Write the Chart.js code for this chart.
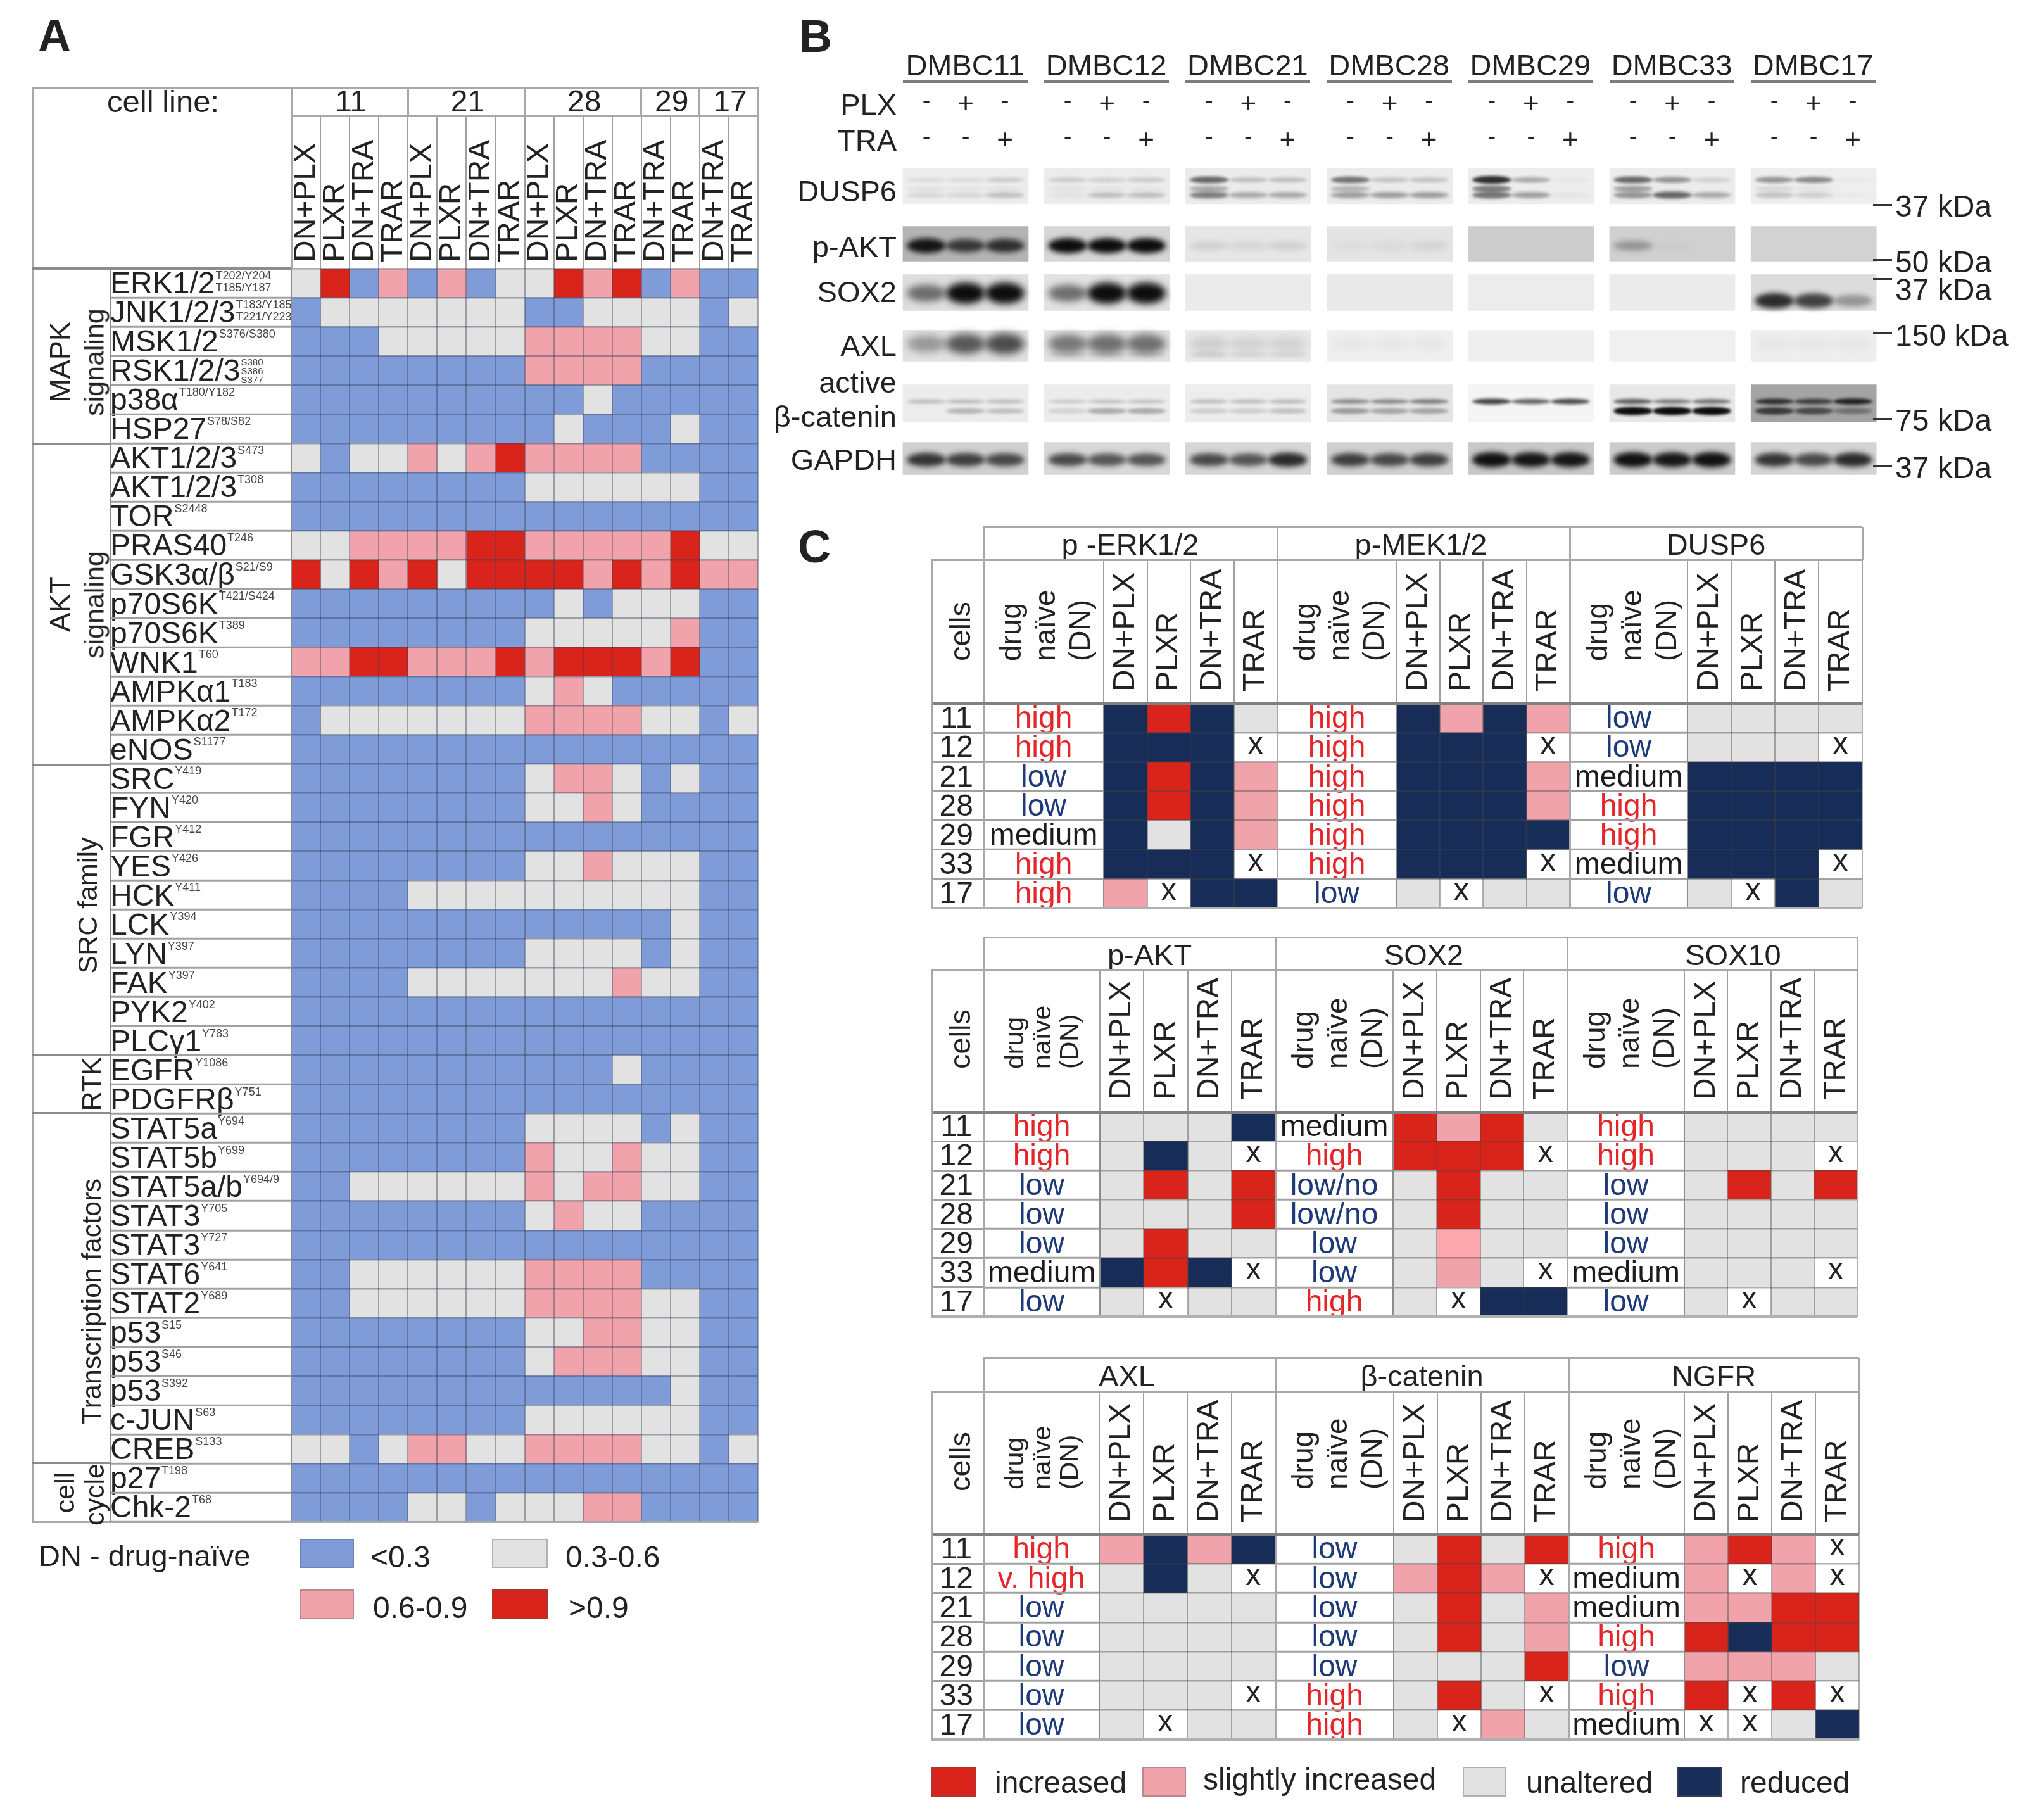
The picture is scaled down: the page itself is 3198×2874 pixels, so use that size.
<!DOCTYPE html>
<html>
<head>
<meta charset="utf-8">
<title>Signaling heatmaps</title>
<script src="https://cdn.jsdelivr.net/npm/chart.js@4"></script>
<style>
  html, body { margin: 0; background: #fff; }
  body { position: relative; width: 3198px; height: 2874px; overflow: hidden; font-family: "Liberation Sans", Arial, sans-serif; color: #222; }
  #page { position: absolute; left: 0; top: 0; width: 3198px; height: 2874px; filter: blur(0.7px); }
  canvas { position: absolute; }
  .txt { position: absolute; white-space: pre; line-height: 1; }
  .bar { position: absolute; }
</style>
</head>
<body>
<div id="page"></div>
<script>
// ---- panel A data ----
const treatments = ["DN+PLX", "PLXR", "DN+TRA", "TRAR"];
const cellGroups = ["11", "21", "28", "29", "17"];
const groupSpans = [4, 4, 4, 2, 2];
const panelAColumns = [...treatments, ...treatments, ...treatments, "DN+TRA", "TRAR", "DN+TRA", "TRAR"];
const proteins = ["ERK1/2", "JNK1/2/3", "MSK1/2", "RSK1/2/3", "p38α", "HSP27", "AKT1/2/3", "AKT1/2/3", "TOR", "PRAS40", "GSK3α/β",
  "p70S6K", "p70S6K", "WNK1", "AMPKα1", "AMPKα2", "eNOS", "SRC", "FYN", "FGR", "YES", "HCK", "LCK", "LYN", "FAK", "PYK2", "PLCγ1",
  "EGFR", "PDGFRβ", "STAT5a", "STAT5b", "STAT5a/b", "STAT3", "STAT3", "STAT6", "STAT2", "p53", "p53", "p53", "c-JUN", "CREB", "p27", "Chk-2"];
const phosphoSites = [["T202/Y204", "T185/Y187"], ["T183/Y185", "T221/Y223"], ["S376/S380"], ["S380", "S386", "S377"], ["T180/Y182"], ["S78/S82"],
  ["S473"], ["T308"], ["S2448"], ["T246"], ["S21/S9"], ["T421/S424"], ["T389"], ["T60"], ["T183"], ["T172"], ["S1177"],
  ["Y419"], ["Y420"], ["Y412"], ["Y426"], ["Y411"], ["Y394"], ["Y397"], ["Y397"], ["Y402"], ["Y783"], ["Y1086"], ["Y751"],
  ["Y694"], ["Y699"], ["Y694/9"], ["Y705"], ["Y727"], ["Y641"], ["Y689"], ["S15"], ["S46"], ["S392"], ["S63"], ["S133"], ["T198"], ["T68"]];
// one string per protein, 0: <0.3, 1: 0.3-0.6, 2: 0.6-0.9, 3: >0.9
const panelALevels = [
  "1302020113230200", "0111111100111101", "0001111122221100", "0000000022220000", "0000000000100000", "0000000001000100",
  "1011212322220000", "0000000011111100", "0000000000000000", "1122223322222311", "3132313333232322",
  "0000000001011100", "0000000011111200", "2233222323332300", "0000000012100000", "0111111122221101", "0000000000000000",
  "0000000012210100", "0000000011210000", "0000000000000000", "0000000011211100", "0000111111111100", "0000000000000100",
  "0000000011110100", "0000111111121100", "0000000000000000", "0000000000000000", "0000000000010000", "0000000000000000",
  "0000000011110100", "0000000021121100", "0011111121221100", "0000000012110000", "0000000000000000", "0011111122220000",
  "0011111122221100", "0000000011221100", "0000000012221100", "0000000000000100", "0000000011111100", "1101221122221101",
  "0000000000000000", "0000110111220000"];

// ---- panel B data: band darkness per lane, 7 cell lines x 3 lanes ----
const blotLines = ["DMBC11", "DMBC12", "DMBC21", "DMBC28", "DMBC29", "DMBC33", "DMBC17"];
const plxMarks = ["-", "+", "-"];
const traMarks = ["-", "-", "+"];
const dusp6Upper = [.08, .08, .15, .15, .13, .15, .6, .2, .2, .55, .18, .18, .85, .3, .03, .6, .4, .12, .4, .45, .03];
const dusp6Middle = [.05, .04, .05, .05, .03, .03, .3, 0, 0, .25, 0, 0, .5, 0, 0, .35, 0, 0, .1, .05, 0];
const dusp6Lower = [.1, .1, .2, .05, .2, .2, .5, .3, .3, .35, .35, .35, .55, .35, .04, .4, .6, .3, .2, .15, .02];
const pAktBand = [.95, .75, .8, 1, 1, 1, .1, .08, .1, .03, .05, .08, 0, 0, 0, .3, .02, 0, 0, 0, 0];
const sox2Band = [.55, 1, 1, .55, 1, 1, 0, 0, 0, 0, 0, 0, 0, 0, 0, 0, 0, 0, 0, 0, 0];
const sox2LowBand = [0, 0, 0, 0, 0, 0, 0, 0, 0, 0, 0, 0, 0, 0, 0, 0, 0, 0, .85, .75, .35];
const axlBand = [.35, .65, .7, .5, .55, .55, .12, .1, .1, .03, .03, .03, 0, 0, 0, 0, 0, 0, .03, .03, .03];
const axlLowBand = [0, 0, 0, .1, .1, .1, .1, .08, .08, 0, 0, 0, 0, 0, 0, 0, 0, 0, 0, 0, 0];
const cateninUpper = [.2, .2, .2, .15, .18, .18, .2, .2, .22, .4, .4, .45, .75, .6, .7, .6, .45, .5, .75, .65, .85];
const cateninLower = [0, .25, .2, .12, .3, .3, .15, .15, .2, .35, .3, .3, 0, 0, 0, 1, 1, 1, .7, .6, .35];
const gapdhBand = [.8, .75, .7, .7, .65, .65, .7, .65, .85, .75, .7, .75, .98, .95, .95, .98, .95, .98, .8, .7, .85];

// ---- panel C data ----
const cellLines = ["11", "12", "21", "28", "29", "33", "17"];
const pErkNaive = ["high", "high", "low", "low", "medium", "high", "high"];
const pErkCalls = ["riru", "rrrx", "rirs", "rirs", "rurs", "rrrx", "sxrr"];
const pMekNaive = ["high", "high", "high", "high", "high", "high", "low"];
const pMekCalls = ["rsrs", "rrrx", "rrrs", "rrrs", "rrrr", "rrrx", "uxuu"];
const dusp6Naive = ["low", "low", "medium", "high", "high", "medium", "low"];
const dusp6Calls = ["uuuu", "uuux", "rrrr", "rrrr", "rrrr", "rrrx", "uxru"];
const pAktNaive = ["high", "high", "low", "low", "low", "medium", "low"];
const pAktCalls = ["uuur", "urux", "uiui", "uuui", "uiuu", "rirx", "uxuu"];
const sox2Naive = ["medium", "high", "low/no", "low/no", "low", "low", "high"];
const sox2Calls = ["isiu", "iiix", "uiuu", "uiuu", "upuu", "usux", "uxrr"];
const sox10Naive = ["high", "high", "low", "low", "low", "medium", "low"];
const sox10Calls = ["uuuu", "uuux", "uiui", "uuuu", "uuuu", "uuux", "uxuu"];
const axlNaive = ["high", "v. high", "low", "low", "low", "low", "low"];
const axlCalls = ["srsr", "urux", "uuuu", "uuuu", "uuuu", "uuux", "uxuu"];
const cateninNaive = ["low", "low", "low", "low", "low", "high", "high"];
const cateninCalls = ["uiui", "sisx", "uius", "uius", "uuui", "uiux", "uxsu"];
const ngfrNaive = ["high", "medium", "medium", "high", "low", "high", "medium"];
const ngfrCalls = ["sisx", "sxsx", "ssii", "irii", "sssu", "ixix", "xxur"];

// ---- colours ----
const panelAPalette = ["#7f9cd8", "#e2e2e2", "#f0a3aa", "#d9241b"];
const panelCPalette = { r: "#182c58", i: "#d9241b", s: "#f0a3aa", p: "#fca6ae", u: "#e2e2e2", x: "#ffffff" };
const naiveColours = { "high": "#e2262a", "v. high": "#e2262a", "low": "#1e3a78", "low/no": "#1e3a78", "medium": "#1c1c1c" };
const FONT = '"Liberation Sans"';

Chart.defaults.font.family = FONT;
Chart.defaults.color = "#222";
Chart.defaults.animation = false;

const page = document.getElementById("page");

// ---- small page helpers ----
function addText(text, x, y, opts = {}) {
  const { size = 48, align = "left", rotate = 0, color = "#222", weight = "normal" } = opts;
  const el = document.createElement("div");
  el.className = "txt";
  el.textContent = text;
  const shift = align === "left" ? "0" : align === "right" ? "-100%" : "-50%";
  el.style.cssText = `left:${x}px;top:${y}px;font-size:${size}px;color:${color};font-weight:${weight};transform:translate(${shift},-50%) rotate(${rotate}deg);`;
  page.appendChild(el);
}
// rotated text that reads upward, anchored at its lower end
function addRotatedFromBottom(text, x, baseY, size) {
  const el = document.createElement("div");
  el.className = "txt";
  el.textContent = text;
  el.style.cssText = `left:${x}px;top:${baseY}px;font-size:${size}px;transform-origin:0 0;transform:rotate(-90deg) translate(0,-50%);`;
  page.appendChild(el);
}
function addBox(x, y, w, h, color) {
  const el = document.createElement("div");
  el.className = "bar";
  el.style.cssText = `left:${x}px;top:${y}px;width:${w}px;height:${h}px;background:${color};`;
  page.appendChild(el);
  return el;
}
function hLine(x1, x2, y, color = "#a8a8a8", t = 3) { addBox(x1, y - t / 2, x2 - x1, t, color); }
function vLine(x, y1, y2, color = "#a8a8a8", t = 3) { addBox(x - t / 2, y1, t, y2 - y1, color); }
function addSwatch(x, y, w, h, color) {
  const el = addBox(x, y, w, h, color);
  el.style.boxSizing = "border-box";
  el.style.border = "2px solid rgba(90,90,90,0.35)";
}
function addCanvas(x, y, w, h) {
  const c = document.createElement("canvas");
  c.width = w;
  c.height = h;
  c.style.left = x + "px";
  c.style.top = y + "px";
  c.style.width = w + "px";
  c.style.height = h + "px";
  page.appendChild(c);
  return c;
}

// stacked horizontal bars, one dataset per column, so each bar is one heatmap cell
function heatChart({ x, y, w, h, rows, cols, fills, yAxis, extraScales = {}, headerHeight, headerPad, gridColour, plugins = [] }) {
  const pad = 3;
  const canvas = addCanvas(x - pad, y - pad, w + pad * 2, h + pad * 2);
  return new Chart(canvas, {
    type: "bar",
    data: {
      labels: rows,
      datasets: cols.map((col, c) => ({
        label: col,
        data: rows.map(() => 1),
        backgroundColor: rows.map((_, r) => fills(r, c)),
        borderWidth: 0,
        barPercentage: 1,
        categoryPercentage: 1,
        xAxisID: "x",
        yAxisID: "y"
      }))
    },
    options: {
      indexAxis: "y",
      responsive: false,
      layout: { padding: pad, autoPadding: false },
      plugins: { legend: { display: false }, tooltip: { enabled: false }, title: { display: false } },
      scales: {
        x: { type: "linear", display: false, stacked: true, min: 0, max: cols.length },
        xCols: {
          type: "category",
          position: "top",
          labels: cols,
          offset: true,
          afterFit: s => { s.height = headerHeight; },
          grid: { offset: true, z: 1, color: gridColour, lineWidth: 2, tickLength: headerHeight, tickColor: "#a0a0a0", tickWidth: 2 },
          border: { display: false },
          ticks: { autoSkip: false, minRotation: 90, maxRotation: 90, padding: headerPad - headerHeight, labelOffset: 58, font: { size: 48 }, color: "#222" }
        },
        y: {
          type: "category",
          stacked: true,
          offset: true,
          afterFit: s => { s.width = yAxis.width; },
          grid: { offset: true, z: 1, color: gridColour, lineWidth: 2.5, tickLength: yAxis.width, tickColor: "#a0a0a0", tickWidth: 3 },
          border: { display: true, color: "#8c8c8c", width: 2, z: 1 },
          ticks: { autoSkip: false, crossAlign: yAxis.crossAlign, padding: yAxis.padding, labelOffset: yAxis.labelOffset, font: { size: 48 }, color: yAxis.color || "#222" }
        },
        ...extraScales
      }
    },
    plugins
  });
}

// ---- panel A ----
const A = { left: 51, labelX: 174, cellX: 460, right: 1197, top: 138, groupLine: 183, rowTop: 424, bottom: 2403 };
const siteLabels = {
  id: "siteLabels",
  afterDraw(chart) {
    const { ctx } = chart;
    const scale = chart.scales.y;
    ctx.save();
    ctx.fillStyle = "#444";
    ctx.textAlign = "left";
    ctx.textBaseline = "top";
    proteins.forEach((name, i) => {
      const sites = phosphoSites[i];
      ctx.font = `48px ${FONT}`;
      const sx = scale.left + ctx.measureText(name).width + 1;
      const rowY = scale.getPixelForTick(i) - 23;
      const size = sites.length > 2 ? 15 : 18;
      ctx.font = `${size}px ${FONT}`;
      sites.forEach((site, k) => ctx.fillText(site, sx, rowY + 3 + k * (sites.length > 2 ? 14 : 19)));
    });
    ctx.restore();
  }
};
heatChart({
  x: A.labelX, y: A.groupLine, w: A.right - A.labelX, h: A.bottom - A.groupLine,
  rows: proteins, cols: panelAColumns,
  fills: (r, c) => panelAPalette[Number(panelALevels[r][c])],
  yAxis: { width: A.cellX - A.labelX, crossAlign: "far", padding: -60, labelOffset: 3 },
  headerHeight: A.rowTop - A.groupLine, headerPad: 10,
  gridColour: "rgba(55,65,90,0.42)",
  plugins: [siteLabels]
});
hLine(A.left, A.right, A.top);
vLine(A.left, A.top, A.bottom);
vLine(A.right, A.top, A.rowTop);
hLine(A.left, A.right, A.bottom);
hLine(A.cellX, A.right, A.groupLine);
hLine(A.left, A.cellX, A.rowTop, "#8c8c8c", 4);
vLine(A.cellX, A.top, A.rowTop);
addText("cell line:", 169, 160, { size: 49 });
let colCursor = 0;
const colWidth = (A.right - A.cellX) / panelAColumns.length;
cellGroups.forEach((g, i) => {
  addText(g, A.cellX + (colCursor + groupSpans[i] / 2) * colWidth + 2, 160, { size: 48, align: "center" });
  colCursor += groupSpans[i];
  vLine(A.cellX + colCursor * colWidth, A.top, A.groupLine);
});
[700, 1207, 1665, 1757, 2310].forEach(yy => hLine(A.left, A.labelX, yy, "#8c8c8c", 3));
vLine(A.labelX, A.rowTop, A.bottom, "#8c8c8c", 2);
addText("MAPK", 94, 572, { size: 45, align: "center", rotate: -90 });
addText("signaling", 149, 572, { size: 43, align: "center", rotate: -90 });
addText("AKT", 94, 954, { size: 45, align: "center", rotate: -90 });
addText("signaling", 149, 955, { size: 43, align: "center", rotate: -90 });
addText("SRC family", 138, 1430, { size: 43, align: "center", rotate: -90 });
addText("RTK", 144, 1712, { size: 43, align: "center", rotate: -90 });
addText("Transcription factors", 144, 2055, { size: 43, align: "center", rotate: -90 });
addText("cell", 102, 2357, { size: 43, align: "center", rotate: -90 });
addText("cycle", 149, 2360, { size: 43, align: "center", rotate: -90 });
// panel A legend
addText("DN - drug-naïve", 61, 2456, { size: 47 });
addSwatch(473, 2430, 86, 46, panelAPalette[0]);
addText("<0.3", 585, 2459, { size: 48 });
addSwatch(777, 2430, 88, 46, panelAPalette[1]);
addText("0.3-0.6", 893, 2459, { size: 48 });
addSwatch(473, 2510, 86, 47, panelAPalette[2]);
addText("0.6-0.9", 589, 2539, { size: 48 });
addSwatch(777, 2510, 88, 47, panelAPalette[3]);
addText(">0.9", 898, 2539, { size: 48 });

// ---- panel B ----
const B = { left: 1420, top: 140, width: 1555, height: 627, rowPitch: 86, firstRowY: 294, firstLaneX: 1525, lanePitch: 62, groupPitch: 3.6 };
const rowCentres = [294, 385, 462, 546, 637, 724];
const stripHeights = [56, 55, 57, 49, 59, 51];
const rowValue = row => (rowCentres[row] - B.firstRowY) / B.rowPitch;
const lanePos = laneIndex => Math.floor(laneIndex / 3) * B.groupPitch + (laneIndex % 3) - 1;
const stripShades = [
  ["#ededed", "#ececec", "#ebebeb", "#ebebeb", "#ededed", "#ececec", "#eeeeee"],
  ["#b4b4b4", "#d6d6d6", "#e6e6e6", "#e4e4e4", "#cdcdcd", "#d0d0d0", "#d2d2d2"],
  ["#dedede", "#e2e2e2", "#ebebeb", "#e9e9e9", "#ececec", "#ebebeb", "#dcdcdc"],
  ["#e2e2e2", "#e2e2e2", "#e8e8e8", "#efefef", "#efefef", "#f0f0f0", "#eeeeee"],
  ["#ececec", "#ececec", "#ededed", "#e4e4e4", "#f5f5f5", "#e8e8e8", "#a4a4a4"],
  ["#d0d0d0", "#d8d8d8", "#d6d6d6", "#d0d0d0", "#c8c8c8", "#cccccc", "#d4d4d4"]
];
// band styling: row of the blot, offset from row centre and thickness in px
const bandStyles = [
  { values: dusp6Upper, row: 0, offset: -10, thick: 11 },
  { values: dusp6Middle, row: 0, offset: 4, thick: 11 },
  { values: dusp6Lower, row: 0, offset: 14, thick: 12 },
  { values: pAktBand, row: 1, offset: 3, thick: 20 },
  { values: sox2Band, row: 2, offset: 1, thick: 28 },
  { values: sox2LowBand, row: 2, offset: 13, thick: 22 },
  { values: axlBand, row: 3, offset: -3, thick: 32 },
  { values: axlLowBand, row: 3, offset: 14, thick: 12 },
  { values: cateninUpper, row: 4, offset: -3, thick: 9 },
  { values: cateninLower, row: 4, offset: 12, thick: 11 },
  { values: gapdhBand, row: 5, offset: 2, thick: 20 }
];
function bandSprite(darkness, thick) {
  const c = document.createElement("canvas");
  c.width = 110;
  c.height = thick * 3 + 10;
  const g = c.getContext("2d");
  g.filter = `blur(${Math.max(2, thick * 0.2)}px)`;
  g.fillStyle = `rgba(12,12,12,${Math.min(1, darkness)})`;
  g.beginPath();
  g.ellipse(c.width / 2, c.height / 2, 31, thick * (0.32 + 0.28 * darkness), 0, 0, Math.PI * 2);
  g.fill();
  return c;
}
const stripData = [];
const stripColours = [];
stripShades.forEach((shades, row) => shades.forEach((shade, g) => {
  const half = stripHeights[row] / 2 / B.rowPitch;
  stripData.push({ x: g * B.groupPitch, y: [rowValue(row) - half, rowValue(row) + half] });
  stripColours.push(shade);
}));
const bandDatasets = bandStyles.map(band => {
  const points = [];
  const sprites = [];
  band.values.forEach((v, lane) => {
    if (v > 0) {
      points.push({ x: lanePos(lane), y: rowValue(band.row) + band.offset / B.rowPitch });
      sprites.push(bandSprite(v, band.thick));
    }
  });
  return { type: "scatter", data: points, pointStyle: sprites, showLine: false, order: 1 };
});
const treatmentMarks = {
  id: "treatmentMarks",
  afterDraw(chart) {
    const { ctx, scales } = chart;
    ctx.save();
    ctx.fillStyle = "#222";
    ctx.textAlign = "center";
    ctx.textBaseline = "middle";
    for (let lane = 0; lane < blotLines.length * 3; lane++) {
      const px = scales.x.getPixelForValue(lanePos(lane));
      [[plxMarks, -1.51], [traMarks, -0.85]].forEach(([marks, markRow]) => {
        const m = marks[lane % 3];
        ctx.font = `${m === "+" ? 44 : 38}px ${FONT}`;
        ctx.fillText(m, px, scales.y.getPixelForValue(markRow) + (m === "+" ? 2 : -3));
      });
    }
    ctx.restore();
  }
};
new Chart(addCanvas(B.left, B.top, B.width, B.height), {
  type: "scatter",
  data: {
    datasets: [
      { type: "bar", data: stripData, backgroundColor: stripColours, barThickness: 198, borderWidth: 0, order: 2 },
      ...bandDatasets
    ]
  },
  options: {
    responsive: false,
    layout: { padding: 0, autoPadding: false },
    plugins: { legend: { display: false }, tooltip: { enabled: false } },
    scales: {
      x: { type: "linear", display: false, offset: false, min: (B.left - B.firstLaneX) / B.lanePitch, max: (B.left + B.width - B.firstLaneX) / B.lanePitch },
      y: { type: "linear", display: false, reverse: true, min: (B.top - B.firstRowY) / B.rowPitch, max: (B.top + B.height - B.firstRowY) / B.rowPitch }
    }
  },
  plugins: [treatmentMarks]
});
blotLines.forEach((name, g) => {
  const cx = B.firstLaneX + g * B.groupPitch * B.lanePitch - 1;
  addText(name, cx, 102, { size: 47, align: "center" });
  hLine(cx - 98, cx + 99, 128, "#7d7d7d", 5);
});
addText("PLX", 1416, 164, { size: 47, align: "right" });
addText("TRA", 1416, 221, { size: 47, align: "right" });
[["DUSP6", 301], ["p-AKT", 389], ["SOX2", 460], ["AXL", 545], ["active", 603], ["β-catenin", 657], ["GAPDH", 725]].forEach(([name, yy]) => addText(name, 1416, yy, { size: 47, align: "right" }));
[[323, 326, "37 kDa"], [410, 414, "50 kDa"], [440, 458, "37 kDa"], [526, 530, "150 kDa"], [661, 664, "75 kDa"], [735, 739, "37 kDa"]].forEach(([dashY, textY, label]) => {
  hLine(2958, 2988, dashY, "#333", 3);
  addText(label, 2993, textY, { size: 48 });
});

// ---- panel C ----
const tableRows = [
  { title: 832, head: 884, rows: 1111, bottom: 1434, lefts: [1553, 2017, 2479], cols: [1743, 2205, 2665], end: 2941, drug: [[43, 97, 152, 46], [43, 97, 152, 46], [43, 97, 152, 46]], drugBase: 1044, cellsY: 997 },
  { title: 1480, head: 1531, rows: 1756, bottom: 2079, lefts: [1553, 2014, 2475], cols: [1737, 2200, 2660], end: 2933, drug: [[49, 92, 135, 41], [43, 97, 152, 46], [43, 97, 152, 46]], drugBase: 1688, cellsY: 1641 },
  { title: 2144, head: 2197, rows: 2423, bottom: 2747, lefts: [1553, 2014, 2477], cols: [1736, 2201, 2660], end: 2936, drug: [[49, 92, 135, 41], [43, 97, 152, 46], [43, 97, 152, 46]], drugBase: 2352, cellsY: 2308 }
];
const tableSets = [
  [["p -ERK1/2", pErkNaive, pErkCalls, 0], ["p-MEK1/2", pMekNaive, pMekCalls, -4], ["DUSP6", dusp6Naive, dusp6Calls, 0]],
  [["p-AKT", pAktNaive, pAktCalls, 32], ["SOX2", sox2Naive, sox2Calls, 4], ["SOX10", sox10Naive, sox10Calls, 33]],
  [["AXL", axlNaive, axlCalls, -4], ["β-catenin", cateninNaive, cateninCalls, 0], ["NGFR", ngfrNaive, ngfrCalls, 0]]
];
const CELLS_LEFT = 1471;
const probe = document.createElement("canvas").getContext("2d");
probe.font = `48px ${FONT}`;
const xMarks = calls => ({
  id: "xMarks",
  afterDatasetsDraw(chart) {
    const { ctx } = chart;
    ctx.save();
    ctx.font = `48px ${FONT}`;
    ctx.fillStyle = "#222";
    ctx.textAlign = "center";
    ctx.textBaseline = "middle";
    calls.forEach((line, r) => [...line].forEach((call, c) => {
      if (call === "x") {
        const el = chart.getDatasetMeta(c).data[r];
        ctx.fillText("x", (el.x + el.base) / 2, el.y - 3);
      }
    }));
    ctx.restore();
  }
});
tableSets.forEach((set, t) => {
  const L = tableRows[t];
  set.forEach(([title, naive, calls, titleShift], s) => {
    const first = s === 0;
    const naiveLeft = L.lefts[s];
    const naiveWidth = L.cols[s] - naiveLeft;
    const right = s < 2 ? L.lefts[s + 1] : L.end;
    const chartLeft = first ? CELLS_LEFT : naiveLeft;
    const widest = Math.max(...naive.map(n => probe.measureText(n).width));
    const cellsWidth = naiveLeft - CELLS_LEFT;
    const widestCell = probe.measureText("11").width;
    heatChart({
      x: chartLeft, y: L.head, w: right - chartLeft, h: L.bottom - L.head,
      rows: naive, cols: treatments,
      fills: (r, c) => panelCPalette[calls[r][c]],
      yAxis: { width: naiveWidth, crossAlign: "center", padding: -naiveWidth / 2 - widest / 2, labelOffset: 2, color: ctx => naiveColours[naive[ctx.index]] },
      extraScales: first ? {
        yCells: {
          type: "category",
          position: "left",
          labels: cellLines,
          weight: 1,
          offset: true,
          afterFit: sc => { sc.width = cellsWidth; },
          grid: { offset: true, drawOnChartArea: false, tickLength: cellsWidth, tickColor: "#a0a0a0", tickWidth: 3 },
          border: { display: false },
          ticks: { autoSkip: false, crossAlign: "center", padding: -cellsWidth / 2 - widestCell / 2, labelOffset: 2, font: { size: 48 }, color: "#222" }
        }
      } : {},
      headerHeight: L.rows - L.head, headerPad: 19,
      gridColour: "rgba(70,70,70,0.42)",
      plugins: [xMarks(calls)]
    });
    addText(title, (naiveLeft + right) / 2 + titleShift, (L.title + L.head) / 2 + 1, { size: 47, align: "center" });
    vLine(right, L.title, L.head);
    vLine(naiveLeft, L.title, L.bottom);
    const [a, b, c, size] = L.drug[s];
    ["drug", "naïve", "(DN)"].forEach((word, k) => addRotatedFromBottom(word, naiveLeft + [a, b, c][k], L.drugBase, size));
  });
  hLine(L.lefts[0], L.end, L.title);
  hLine(CELLS_LEFT, L.end, L.head);
  hLine(CELLS_LEFT, L.end, L.rows, "#808080", 5);
  hLine(CELLS_LEFT, L.end, L.bottom, "#b0b0b0", 4);
  vLine(CELLS_LEFT, L.head, L.bottom);
  addText("cells", 1515, L.cellsY, { size: 47, align: "center", rotate: -90 });
});
// panel C legend
addSwatch(1471, 2790, 71, 47, panelCPalette.i);
addText("increased", 1571, 2815, { size: 48 });
addSwatch(1804, 2790, 69, 47, panelCPalette.s);
addText("slightly increased", 1900, 2810, { size: 48 });
addSwatch(2310, 2790, 69, 47, panelCPalette.u);
addText("unaltered", 2410, 2815, { size: 48 });
addSwatch(2649, 2790, 70, 47, panelCPalette.r);
addText("reduced", 2748, 2815, { size: 48 });

// panel letters
addText("A", 60, 56, { size: 72, weight: "bold" });
addText("B", 1262, 57, { size: 72, weight: "bold" });
addText("C", 1260, 863, { size: 72, weight: "bold" });
</script>
</body>
</html>
